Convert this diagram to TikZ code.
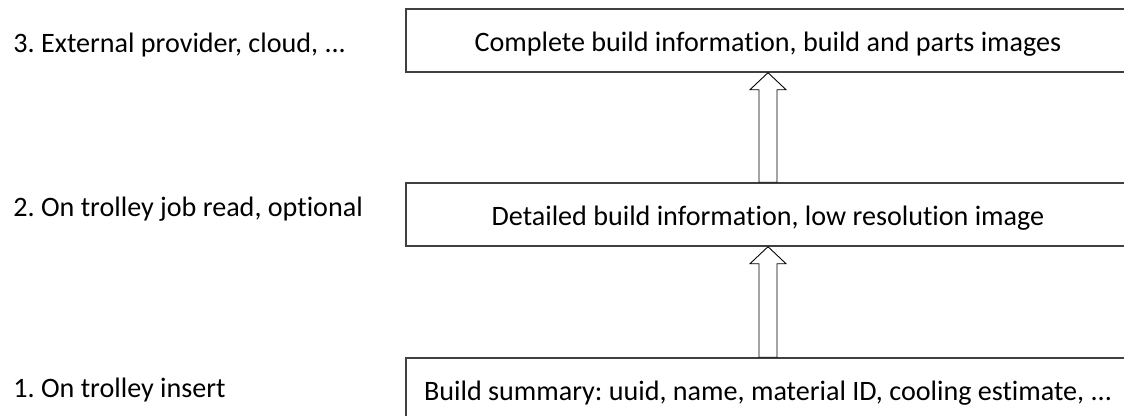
\documentclass[tikz,border=0pt]{standalone}
\usepackage{fontspec}
\setmainfont{Carlito}[Ligatures=NoCommon]
\frenchspacing
\usepackage{tikz}
\usetikzlibrary{calc,positioning}
\definecolor{Ink}{HTML}{000000}
\definecolor{BoxLine}{HTML}{404040}
\tikzset{
  levelbox/.style={draw=BoxLine,fill=white,line width=0.8pt,minimum width=14.48cm,minimum height=1.26cm,inner sep=0pt,font=\fontsize{16}{19}\selectfont,text=Ink,text height=0.46cm,text depth=0cm},
  levellabel/.style={anchor=base west,inner sep=0pt,font=\fontsize{16}{19}\selectfont,text=Ink},
  hollowarrow/.style={draw=Ink,fill=white,line width=0.5pt,line join=miter}
}
\begin{document}
\begin{tikzpicture}[x=1cm,y=1cm]
  \useasboundingbox (0,0) rectangle (22.48,8.32);

  \node[levelbox] (box3) at (15.36,7.51) {Complete build information, build and parts images};
  \node[levelbox] (box2) at (15.36,4.03) {Detailed build information, low resolution image};
  \node[levelbox] (box1) at (15.36,0.53) {Build summary: uuid, name, material ID, cooling estimate, ...};

  \node[levellabel] (lab3) at (0.26,7.27) {3. External provider, cloud, ...};
  \node[levellabel] (lab2) at (0.26,3.98) {2. On trolley job read, optional};
  \node[levellabel] (lab1) at (0.26,0.36) {1. On trolley insert};

  % block arrows between the levels
  \draw[hollowarrow] ($(box1.north)+(-0.18,0)$) -- ($(box2.south)+(-0.18,-0.34)$) -- ($(box2.south)+(-0.36,-0.34)$) -- (box2.south) -- ($(box2.south)+(0.36,-0.34)$) -- ($(box2.south)+(0.18,-0.34)$) -- ($(box1.north)+(0.18,0)$) -- cycle;
  \draw[hollowarrow] ($(box2.north)+(-0.18,0)$) -- ($(box3.south)+(-0.18,-0.34)$) -- ($(box3.south)+(-0.36,-0.34)$) -- (box3.south) -- ($(box3.south)+(0.36,-0.34)$) -- ($(box3.south)+(0.18,-0.34)$) -- ($(box2.north)+(0.18,0)$) -- cycle;
\end{tikzpicture}
\end{document}
